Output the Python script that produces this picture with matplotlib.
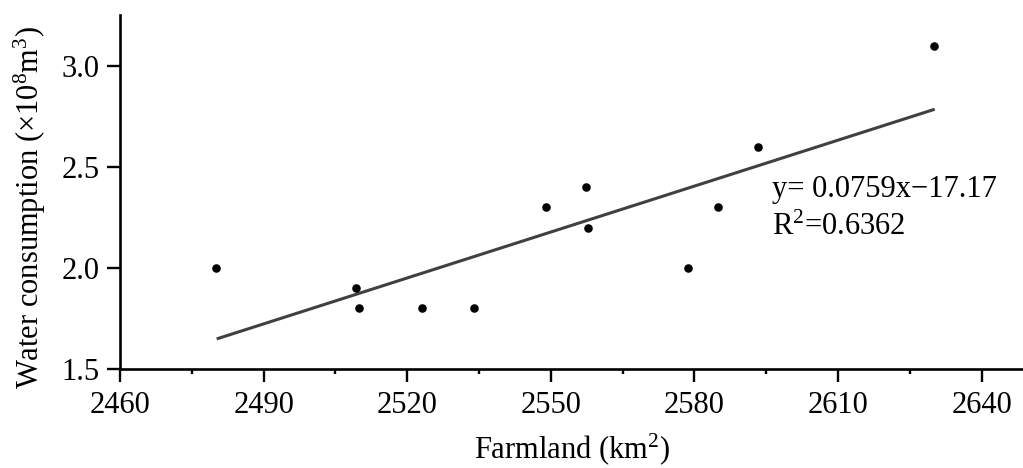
import matplotlib
matplotlib.use("Agg")
import matplotlib.pyplot as plt
from matplotlib.ticker import MultipleLocator, FormatStrFormatter

# Data
farmland = [2480, 2509.4, 2510, 2523, 2534, 2549, 2557.3, 2557.7, 2578.6, 2585, 2593.3, 2630]
water = [2.0, 1.9, 1.8, 1.8, 1.8, 2.3, 2.4, 2.2, 2.0, 2.3, 2.6, 3.1]

# Fitted line end points as drawn
fit_x = [2480.2, 2630.2]
fit_y = [1.649, 2.786]

x_ticks = [2460, 2490, 2520, 2550, 2580, 2610, 2640]
y_ticks = [1.5, 2.0, 2.5, 3.0]

plt.rcParams["font.family"] = ["Liberation Serif", "DejaVu Serif"]
plt.rcParams["mathtext.fontset"] = "custom"
plt.rcParams["mathtext.rm"] = "Liberation Serif"
plt.rcParams["mathtext.it"] = "Liberation Serif:italic"
plt.rcParams["mathtext.default"] = "regular"

fig = plt.figure(figsize=(10.23, 4.68), dpi=100)
ax = fig.add_axes([120 / 1023, 1 - 369 / 468, 902 / 1023, (369 - 15) / 468])

ax.plot(fit_x, fit_y, color="#404040", lw=2.2, solid_capstyle="butt", zorder=2)
ax.scatter(farmland, water, s=38, color="black", zorder=3, linewidths=0)

ax.set_xlim(2460, 2460 + 902 / 4.787)
ax.set_ylim(1.5, 1.5 + 354 / 202)

ax.set_xticks(x_ticks)
ax.xaxis.set_minor_locator(MultipleLocator(15))
ax.set_yticks(y_ticks)
ax.yaxis.set_major_formatter(FormatStrFormatter("%.1f"))

for side in ["top", "right"]:
    ax.spines[side].set_visible(False)
for side in ["left", "bottom"]:
    ax.spines[side].set_linewidth(1.9)

ax.tick_params(axis="both", which="major", direction="out", length=9.5, width=1.7,
               labelsize=22, color="black")
ax.tick_params(axis="x", which="major", pad=6)
ax.tick_params(axis="y", which="major", pad=5)
ax.tick_params(axis="x", which="minor", direction="out", length=3.8, width=1.7)

fig.text(572 / 1023, 1 - 458 / 468, "Farmland (km$^2$)", ha="center", va="baseline",
         fontsize=22)
fig.text(30 / 1023, 1 - 207 / 468, "Water consumption (×10$^8$m$^3$)", ha="center",
         va="center", rotation=90, fontsize=22)

ax.text(2596.1, 2.353, "y= 0.0759x−17.17", fontsize=22, va="baseline", ha="left")
ax.text(2596.1, 2.163, "R$^2$=0.6362", fontsize=22, va="baseline", ha="left")

plt.savefig("out.png", dpi=100)
